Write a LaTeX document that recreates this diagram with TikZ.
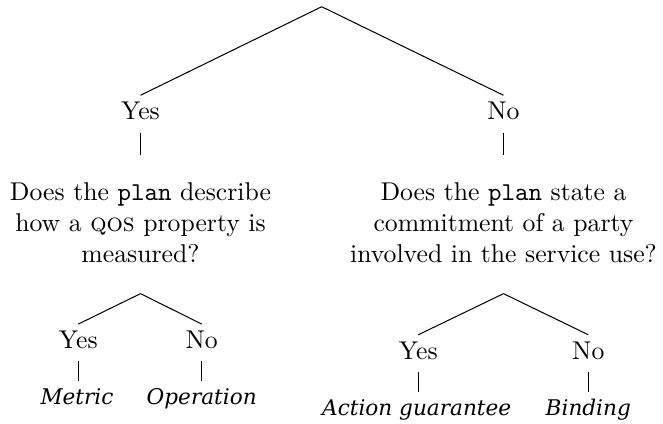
\documentclass[tikz,border=0pt]{standalone}
\usepackage{fontspec}
\newfontfamily\leaffont{DejaVu Serif}
\begin{document}
\begin{tikzpicture}[x=0.389pt,y=-0.389pt,
  yn/.style={anchor=base, inner xsep=0pt, inner ysep=2.4pt, text height=6.83pt, text depth=0pt},
  qbox/.style={anchor=north, align=center, inner xsep=0pt, inner ysep=11.9pt},
  leaf/.style={anchor=base, inner xsep=0pt, inner ysep=2.5pt, text height=6.12pt, text depth=0pt,
    font=\leaffont\itshape\fontsize{8.4}{10}\selectfont},
  edge/.style={draw=black, line width=0.4pt},
  stem/.style={draw=black, line width=0.4pt, shorten <=2.5pt}]
\useasboundingbox (0,0) rectangle (663,423);
\coordinate (root) at (321.7,6.7);
\node[yn] (y1) at (140.5,119.5) {Yes};
\node[yn] (n1) at (503.5,119.5) {No};
\node[qbox] (q1) at (140.5,151.6) {Does the \texttt{plan} describe\\how a \textsc{qos} property is\\measured?};
\node[qbox] (q2) at (503.5,151.6) {Does the \texttt{plan} state a\\commitment of a party\\involved in the service use?};
\node[yn] (y2) at (78.3,348.3) {Yes};
\node[yn] (n2) at (201.7,348.3) {No};
\node[yn] (y3) at (418.3,359) {Yes};
\node[yn] (n3) at (588.3,359) {No};
\node[leaf] (l1) at (77,404) {Metric};
\node[leaf] (l2) at (201.7,404) {Operation};
\node[leaf] (l3) at (416.7,415) {Action guarantee};
\node[leaf] (l4) at (588.3,415) {Binding};
\draw[edge] (root) -- (y1.north);
\draw[edge] (root) -- (n1.north);
\draw[stem, shorten >=-1.3pt] (y1.south) -- (q1.north);
\draw[stem, shorten >=-1.3pt] (n1.south) -- (q2.north);
\draw[edge] (q1.south) -- (y2.north);
\draw[edge] (q1.south) -- (n2.north);
\draw[edge] (q2.south) -- (y3.north);
\draw[edge] (q2.south) -- (n3.north);
\draw[stem] (y2.south) -- (y2.south |- l1.north);
\draw[stem] (n2.south) -- (n2.south |- l2.north);
\draw[stem] (y3.south) -- (y3.south |- l3.north);
\draw[stem] (n3.south) -- (n3.south |- l4.north);
\end{tikzpicture}
\end{document}
